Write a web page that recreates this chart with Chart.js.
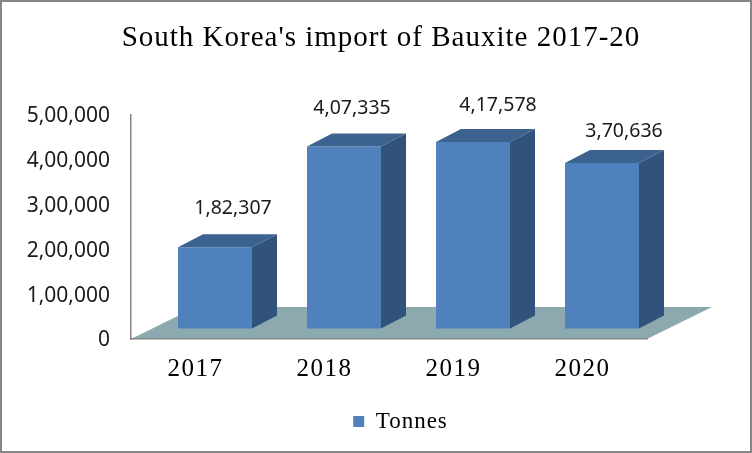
<!DOCTYPE html>
<html>
<head>
<meta charset="utf-8">
<title>South Korea's import of Bauxite</title>
<script src="https://cdn.jsdelivr.net/npm/chart.js@4"></script>
<style>
    html, body { margin: 0; padding: 0; background: #fff; }
    #wrap { position: relative; width: 752px; height: 453px; }
    canvas { display: block; outline: 2px solid #868686; outline-offset: -2px; }
</style>
</head>
<body>
<div id="wrap"><canvas id="chart" width="752" height="453"></canvas></div>
<script>
// Data
const years = ["2017", "2018", "2019", "2020"];
const tonnes = [182307, 407335, 417578, 370636];
const seriesName = "Tonnes";
const chartTitle = "South Korea's import of Bauxite 2017-20";

// Hand placed value labels, same as the original (dx, dy from the bar's top centre)
const labelNudgeX = [18, 8, 25, 22];
const labelNudgeY = [-39, -38, -36, -32];

// 3D look
const frontColor = "#4F81BD";
const sideColor = "#31537B";
const topColor = "#3C6290";
const floorColor = "#8CA9B0";
const axisColor = "#868686";
const barDepth = { x: 25, y: -13 };   // side and top faces of a bar
const floorDepth = { x: 65, y: -32 }; // floor runs back from the axis
const barShift = { x: 19.5, y: -10 }; // bars stand in the middle of the floor

function fillPoly(ctx, pts, color) {
    ctx.fillStyle = color;
    ctx.beginPath();
    pts.forEach((p, i) => i ? ctx.lineTo(p[0], p[1]) : ctx.moveTo(p[0], p[1]));
    ctx.closePath();
    ctx.fill();
}

// Letter spacing only for the serif texts
function spaced(obj, method, spacing) {
    const orig = obj[method];
    obj[method] = function (...args) {
        const ctx = this.ctx;
        ctx.letterSpacing = spacing;
        orig.apply(this, args);
        ctx.letterSpacing = "0px";
    };
}

// Noto Sans sits a little high against the ticks of the original
function nudgedDown(obj, method, dy) {
    const orig = obj[method];
    obj[method] = function (...args) {
        this.ctx.save();
        this.ctx.translate(0, dy);
        orig.apply(this, args);
        this.ctx.restore();
    };
}

const fake3d = {
    id: "fake3d",
    afterLayout(chart) {
        // title and legend are not centred on the canvas in the original
        chart.titleBlock.left = 10;
        chart.titleBlock.right = 752;
        chart.legend.left += 74;
        chart.legend.right += 74;
        if (!chart.$spaced) {
            spaced(chart.titleBlock, "draw", "1px");
            spaced(chart.legend, "draw", "1px");
            spaced(chart.scales.x, "drawLabels", "1.5px");
            nudgedDown(chart.scales.y, "drawLabels", 1.5);
            chart.$spaced = true;
        }
    },
    beforeDraw(chart) {
        const { left, right } = chart.chartArea;
        const y0 = chart.scales.y.getPixelForValue(0);
        fillPoly(chart.ctx, [
            [left, y0],
            [right, y0],
            [right + floorDepth.x, y0 + floorDepth.y],
            [left + floorDepth.x, y0 + floorDepth.y]
        ], floorColor);
    },
    beforeDatasetsDraw(chart) {
        chart.ctx.save();
        chart.ctx.translate(barShift.x, barShift.y);
    },
    afterDatasetsDraw(chart) {
        const ctx = chart.ctx;
        const bars = chart.getDatasetMeta(0).data;
        bars.forEach(bar => {
            const l = bar.x - bar.width / 2;
            const r = bar.x + bar.width / 2;
            const dx = barDepth.x, dy = barDepth.y;
            fillPoly(ctx, [[r, bar.y], [r + dx, bar.y + dy], [r + dx, bar.base + dy], [r, bar.base]], sideColor);
            fillPoly(ctx, [[l, bar.y], [l + dx, bar.y + dy], [r + dx, bar.y + dy], [r, bar.y]], topColor);
        });
        // value labels
        ctx.font = "19.5px 'Noto Sans'";
        ctx.fillStyle = "#1a1a1a";
        ctx.textAlign = "center";
        ctx.textBaseline = "middle";
        bars.forEach((bar, i) => {
            ctx.fillText(tonnes[i].toLocaleString("en-IN"), bar.x + labelNudgeX[i], bar.y + labelNudgeY[i]);
        });
        ctx.restore();
    }
};

new Chart(document.getElementById("chart"), {
    type: "bar",
    data: {
        labels: years,
        datasets: [{
            label: seriesName,
            data: tonnes,
            backgroundColor: frontColor,
            borderWidth: 0,
            categoryPercentage: 1,
            barPercentage: 74 / 129
        }]
    },
    plugins: [fake3d],
    options: {
        responsive: false,
        animation: false,
        layout: { padding: { left: 0, right: 105, top: 0, bottom: 10 } },
        plugins: {
            title: {
                display: true,
                text: chartTitle,
                color: "#000",
                font: { family: "'Liberation Serif'", size: 29, weight: "normal" },
                padding: { top: 21, bottom: 59.2 }
            },
            legend: {
                position: "bottom",
                labels: {
                    color: "#000",
                    font: { family: "'Liberation Serif'", size: 23 },
                    boxWidth: 11,
                    boxHeight: 11,
                    padding: 8
                }
            },
            tooltip: { enabled: false }
        },
        scales: {
            x: {
                grid: { drawOnChartArea: false, drawTicks: false },
                border: { color: axisColor, width: 1.5 },
                ticks: {
                    color: "#000",
                    font: { family: "'Liberation Serif'", size: 25 },
                    padding: 15,
                    maxRotation: 0
                },
                afterFit(scale) { scale.height = 63; }
            },
            y: {
                min: 0,
                max: 500000,
                grid: { drawOnChartArea: false, drawTicks: false },
                border: { color: axisColor, width: 1.5 },
                ticks: {
                    stepSize: 100000,
                    color: "#1a1a1a",
                    font: { family: "'Noto Sans'", size: 21 },
                    padding: 21,
                    callback: v => v.toLocaleString("en-IN")
                },
                afterFit(scale) { scale.width = 131; }
            }
        }
    }
});
</script>
</body>
</html>
